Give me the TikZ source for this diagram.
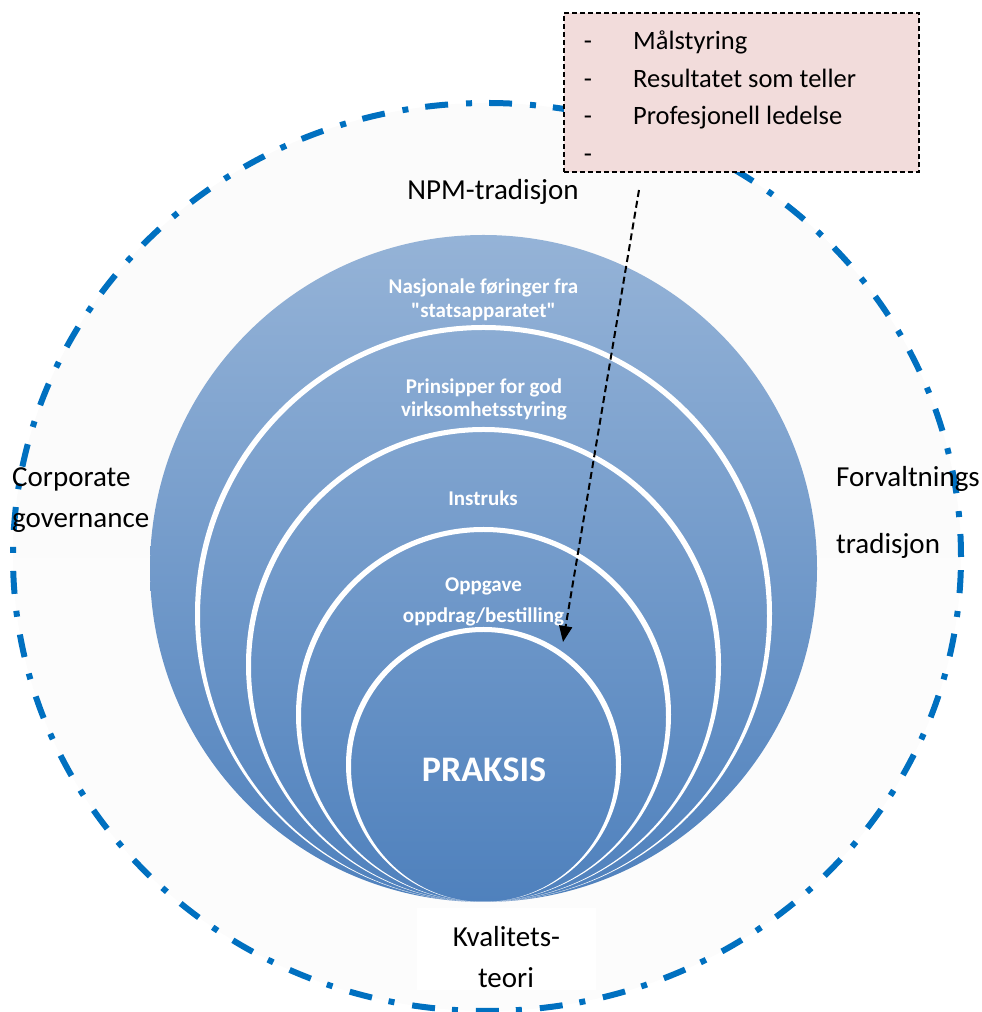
\documentclass[tikz,border=0pt]{standalone}
\usepackage{fontspec}
% no TeX quote mapping, so " stays a straight double quote
\setmainfont{Carlito}[Ligatures=TeXOff]
\usetikzlibrary{arrows.meta}

\definecolor{ringTop}{RGB}{149,179,215}
\definecolor{ringMid}{RGB}{106,146,197}
\definecolor{ringBot}{RGB}{79,129,189}
\definecolor{frameBlue}{RGB}{0,112,192}
\definecolor{noteFill}{RGB}{242,220,219}
\definecolor{haloTop}{RGB}{251,251,251}
\definecolor{haloMid}{RGB}{243,243,243}
\definecolor{haloBot}{RGB}{252,252,252}

\tikzset{
  outerlabel/.style={font=\fontsize{29}{35}\selectfont, text=black, inner sep=0pt},
  ringlabel/.style={font=\bfseries\fontsize{21}{24}\selectfont, text=white, inner sep=0pt, anchor=base},
  notetext/.style={font=\fontsize{26.5}{32}\selectfont, text=black, inner sep=0pt, anchor=base west},
  notedash/.style={font=\fontsize{26.5}{32}\selectfont, text=black, inner sep=0pt, anchor=base},
  dashdotframe/.style={draw=frameBlue, line width=6pt, line cap=butt,
    dash pattern=on 23pt off 17pt on 6pt off 18pt},
  notebox/.style={draw=black, fill=noteFill, line width=1.5pt,
    dash pattern=on 5pt off 3pt, rectangle, inner sep=0pt, anchor=south west},
  pointer/.style={draw=black, line width=2pt, dash pattern=on 7pt off 4pt,
    -{Triangle[length=16pt,width=13pt]}}
}

\begin{document}
\begin{tikzpicture}[x=1pt,y=1pt]
\useasboundingbox (0,0) rectangle (982,1012);

% surrounding field of traditions
\shade[top color=haloTop, middle color=haloMid, bottom color=haloBot]
  (487,455) ellipse (474 and 454);
\path[dashdotframe] (487,455) ellipse (474 and 454);

% plain backing behind the bottom label
\fill[white] (417,22) rectangle (596,104);

% stacked circles, all touching at the bottom
\shade[top color=ringTop, middle color=ringMid, bottom color=ringBot]
  (483.5,443.5) circle (333.5);
\foreach \r in {286,235,185,135}{
  \fill[white, even odd rule]
    (483.5,{110+\r+2.5}) circle ({\r+2.5})
    (483.5,{110+\r}) ellipse ({\r-2.5} and {\r});
}

% labels inside the circles
\node[ringlabel] (nasj1) at (483.5,718) {Nasjonale føringer fra};
\node[ringlabel] (nasj2) at (483.5,694) {"statsapparatet"};
\node[ringlabel] (prin1) at (484,618) {Prinsipper for god};
\node[ringlabel] (prin2) at (484,595) {virksomhetsstyring};
\node[ringlabel] (instr) at (483,506) {Instruks};
\node[ringlabel] (oppg1) at (483.5,420) {Oppgave};
\node[ringlabel] (oppg2) at (483.5,389) {oppdrag/bestilling};
\node[ringlabel, font=\bfseries\fontsize{36}{40}\selectfont] (praksis) at (484,230) {PRAKSIS};

% labels in the outer field
\node[outerlabel, anchor=base] (npm) at (493,812) {NPM-tradisjon};
\node[outerlabel, anchor=base west] (corp1) at (12,525) {Corporate};
\node[outerlabel, anchor=base west] (corp2) at (12,484) {governance};
\node[outerlabel, anchor=base west] (forv1) at (836,525) {Forvaltnings};
\node[outerlabel, anchor=base west] (forv2) at (836,458) {tradisjon};
\node[outerlabel, anchor=base] (kval1) at (506.5,65) {Kvalitets-};
\node[outerlabel, anchor=base] (kval2) at (506,24) {teori};

% note box with NPM keywords
\node[notebox, minimum width=355pt, minimum height=159pt] (note) at (563,839) {};
\node[notedash] (d1) at (588,962) {-};
\node[notedash] (d2) at (588,924.5) {-};
\node[notedash] (d3) at (588,887) {-};
\node[notedash] (d4) at (588,849.5) {-};
\node[notetext] (t1) at (633,962) {Målstyring};
\node[notetext] (t2) at (633,924.5) {Resultatet som teller};
\node[notetext] (t3) at (633,887) {Profesjonell ledelse};

% pointer from the note down to practice
\coordinate (pstart) at (639,822);
\coordinate (pend) at (563,370);
\draw[pointer] (pstart) -- (pend);
\end{tikzpicture}
\end{document}
